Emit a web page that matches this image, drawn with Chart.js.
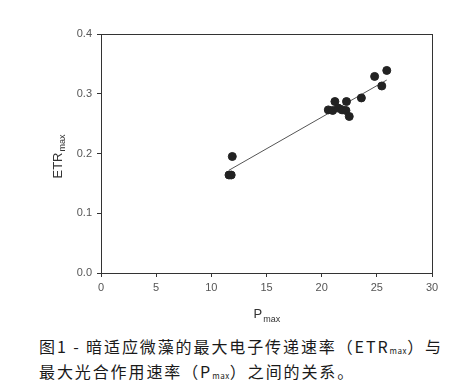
<!DOCTYPE html>
<html>
<head>
<meta charset="utf-8">
<script src="https://cdn.jsdelivr.net/npm/chart.js"></script>
<style>
  html, body { margin: 0; padding: 0; background: #fff; }
  #wrap { position: relative; width: 455px; height: 330px; }
  #caption {
    margin: 6px 0 0 39px;
    font-family: "Noto Sans CJK SC", sans-serif;
    font-size: 16px;
    letter-spacing: 1.9px;
    line-height: 21px;
    color: #1a1a1a;
    white-space: nowrap;
  }
  #caption sub { font-size: 8px; vertical-align: -1px; letter-spacing: 0.6px; }
</style>
</head>
<body>
<div id="wrap"><canvas id="myChart" width="455" height="330"></canvas></div>
<div id="caption">图1 - 暗适应微藻的最大电子传递速率（ETR<sub>max</sub>）与<br>最大光合作用速率（P<sub>max</sub>）之间的关系。</div>
<script>
"use strict"

// Measured points (Pmax, ETRmax)
const pmaxValues = [11.6, 11.8, 11.9, 20.6, 21.0, 21.2, 21.5, 21.85, 22.2, 22.25, 22.5, 23.6, 24.8, 25.45, 25.9];
const etrValues  = [0.164, 0.164, 0.195, 0.273, 0.272, 0.287, 0.276, 0.273, 0.272, 0.287, 0.262, 0.293, 0.329, 0.313, 0.339];

// Regression line ends
const fitX = [11.6, 25.9];
const fitY = [0.172, 0.323];

const xTicks = [0, 5, 10, 15, 20, 25, 30];
const yTicks = [0.0, 0.1, 0.2, 0.3, 0.4];

(function CreateNewChart() {
    const ctx = document.getElementById('myChart');
    const axisColor = "#333";
    const textColor = "#555";
    const tickFont = { family: "'Liberation Sans', Arial, sans-serif", size: 11 };

    // frame + axis titles with subscripts
    const framePlugin = {
        id: 'frame',
        afterDraw(chart) {
            const { ctx, chartArea: { top, right, bottom, left } } = chart;
            ctx.save();
            ctx.strokeStyle = axisColor;
            ctx.lineWidth = 1;
            ctx.strokeRect(left + 0.5, top + 0.5, right - left, bottom - top);

            ctx.fillStyle = "#333";
            ctx.textBaseline = "alphabetic";
            // x title
            ctx.font = "13px 'Liberation Sans', Arial, sans-serif";
            let px = (left + right) / 2 - 13;
            ctx.textAlign = "left";
            ctx.fillText("P", px, 318);
            let pw = ctx.measureText("P").width;
            ctx.font = "9px 'Liberation Sans', Arial, sans-serif";
            ctx.fillText("max", px + pw + 1, 322);

            // y title
            ctx.translate(62, (top + bottom) / 2 + 25);
            ctx.rotate(-Math.PI / 2);
            ctx.font = "13px 'Liberation Sans', Arial, sans-serif";
            ctx.fillText("ETR", 0, 0);
            let ew = ctx.measureText("ETR").width;
            ctx.font = "9px 'Liberation Sans', Arial, sans-serif";
            ctx.fillText("max", ew + 1, 3);
            ctx.restore();
        }
    };

    new Chart(ctx, {
        data: {
            datasets: [{
                type: 'scatter',
                data: pmaxValues.map((x, i) => ({ x: x, y: etrValues[i] })),
                backgroundColor: "#222",
                borderColor: "#222",
                pointRadius: 4,
                pointHoverRadius: 4
            }, {
                type: 'line',
                data: fitX.map((x, i) => ({ x: x, y: fitY[i] })),
                borderColor: "#555",
                borderWidth: 1,
                pointRadius: 0,
                fill: false
            }]
        },
        options: {
            responsive: false,
            animation: false,
            layout: { padding: { top: 34, right: 23, left: 0, bottom: 0 } },
            plugins: { legend: { display: false }, tooltip: { enabled: false } },
            scales: {
                x: {
                    type: 'linear',
                    min: 0, max: 30,
                    afterBuildTicks: (s) => { s.ticks = xTicks.map(v => ({ value: v })); },
                    afterFit: (s) => { s.height = 57; },
                    grid: { drawOnChartArea: false, drawTicks: true, tickLength: 4, color: axisColor },
                    border: { color: axisColor },
                    ticks: { color: textColor, font: tickFont, padding: 4 }
                },
                y: {
                    type: 'linear',
                    min: 0, max: 0.4,
                    afterBuildTicks: (s) => { s.ticks = yTicks.map(v => ({ value: v })); },
                    afterFit: (s) => { s.width = 101; },
                    grid: { drawOnChartArea: false, drawTicks: true, tickLength: 4, color: axisColor },
                    border: { color: axisColor },
                    ticks: { color: textColor, font: tickFont, padding: 5, callback: (v) => v.toFixed(1) }
                }
            }
        },
        plugins: [framePlugin]
    });
}())
</script>
</body>
</html>
